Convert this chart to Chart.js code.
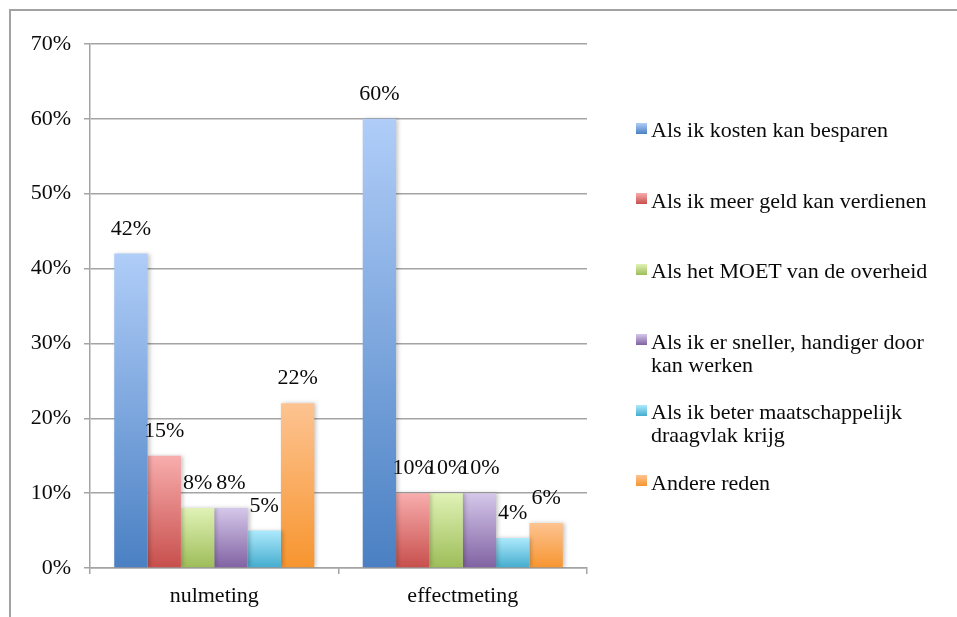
<!DOCTYPE html>
<html>
<head>
<meta charset="utf-8">
<script src="https://cdn.jsdelivr.net/npm/chart.js@4"></script>
<style>
  html, body { margin:0; padding:0; background:#fff; overflow:hidden; }
  #wrap { position:relative; width:957px; height:617px; }
  #frame { position:absolute; left:9px; top:9px; width:960px; height:620px; border-top:2px solid #a2a2a2; border-left:2px solid #a2a2a2; box-sizing:border-box; }
  canvas { position:absolute; left:0; top:0; }
  #legend { position:absolute; left:651px; top:118px; width:295px; font-family:"Liberation Serif", serif; font-size:22px; line-height:23.4px; color:#0a0a0a; }
  .item { position:relative; height:70.5px; }
  .sw { position:absolute; left:-15px; top:4.5px; width:11px; height:11px; }
</style>
</head>
<body>
<div id="wrap">
  <div id="frame"></div>
  <canvas id="c" width="957" height="617"></canvas>
  <div id="legend"></div>
</div>
<script>
const categories = ['nulmeting', 'effectmeting'];
const seriesNames = [
  'Als ik kosten kan besparen',
  'Als ik meer geld kan verdienen',
  'Als het MOET van de overheid',
  'Als ik er sneller, handiger door kan werken',
  'Als ik beter maatschappelijk draagvlak krijg',
  'Andere reden'
];
const kostenBesparen = [42, 60];
const meerGeld = [15, 10];
const moetOverheid = [8, 10];
const snellerHandiger = [8, 10];
const draagvlak = [5, 4];
const andereReden = [22, 6];
const yTickValues = [0, 10, 20, 30, 40, 50, 60, 70];

const seriesValues = [kostenBesparen, meerGeld, moetOverheid, snellerHandiger, draagvlak, andereReden];
const gradTop = ['#b0cdf8', '#f8adad', '#e0f2b6', '#d5c7ea', '#ade9fc', '#fdc391'];
const gradBottom = ['#4a80c3', '#c74f4c', '#9dbd58', '#8062a2', '#44acce', '#f7952f'];

const FONT = '"Liberation Serif", serif';

function gradFor(i) {
  return function(ctx) {
    const chart = ctx.chart;
    const bottom = gradBottom[i];
    if (!chart.chartArea || ctx.type !== 'data' || !chart.scales.y) return bottom;
    const y0 = chart.scales.y.getPixelForValue(0);
    const y1 = chart.scales.y.getPixelForValue(ctx.raw);
    if (!isFinite(y0) || !isFinite(y1) || y0 === y1) return bottom;
    const g = chart.ctx.createLinearGradient(0, y1, 0, y0);
    g.addColorStop(0, gradTop[i]);
    g.addColorStop(1, bottom);
    return g;
  };
}

const datasets = seriesNames.map((name, i) => ({
  label: name,
  data: seriesValues[i],
  backgroundColor: gradFor(i),
  borderWidth: 0,
  barPercentage: 1.0,
  categoryPercentage: 0.805
}));

const shadowPlugin = {
  id: 'barShadow',
  beforeDatasetsDraw(chart) {
    const c = chart.ctx;
    c.save();
    c.shadowColor = 'rgba(0,0,0,0.22)';
    c.shadowBlur = 4;
    c.shadowOffsetX = 2;
    c.shadowOffsetY = 0;
  },
  afterDatasetsDraw(chart) {
    chart.ctx.restore();
  }
};

const labelPlugin = {
  id: 'valueLabels',
  afterDatasetsDraw(chart) {
    const c = chart.ctx;
    c.save();
    c.font = '22px ' + FONT;
    c.fillStyle = '#0a0a0a';
    c.textAlign = 'center';
    c.textBaseline = 'alphabetic';
    chart.data.datasets.forEach((ds, di) => {
      const meta = chart.getDatasetMeta(di);
      meta.data.forEach((bar, j) => {
        c.fillText(ds.data[j] + '%', bar.x, bar.y - 19);
      });
    });
    c.restore();
  }
};

const gridColor = '#a4a4a4';

new Chart(document.getElementById('c'), {
  type: 'bar',
  data: { labels: categories, datasets },
  plugins: [shadowPlugin, labelPlugin],
  options: {
    responsive: false,
    animation: false,
    devicePixelRatio: 1,
    layout: { padding: { left: 0, top: 44, right: 370, bottom: 0 } },
    plugins: { legend: { display: false }, tooltip: { enabled: false } },
    scales: {
      x: {
        afterFit(scale) { scale.height = 49; },
        grid: { drawOnChartArea: false, drawTicks: true, tickLength: 6, color: gridColor, lineWidth: 1.5, offset: true },
        border: { color: gridColor, width: 1.5 },
        ticks: { font: { family: FONT, size: 22 }, color: '#0a0a0a', padding: 9, maxRotation: 0 }
      },
      y: {
        min: 0, max: 70,
        afterFit(scale) { scale.width = 90; },
        afterBuildTicks(scale) { scale.ticks = yTickValues.map(v => ({ value: v })); },
        grid: { color: gridColor, lineWidth: 1.5, tickLength: 6, drawTicks: true },
        border: { color: gridColor, width: 1.5 },
        ticks: { font: { family: FONT, size: 22 }, color: '#0a0a0a', padding: 13, callback: v => v + '%' }
      }
    }
  }
});

const legend = document.getElementById('legend');
seriesNames.forEach((name, i) => {
  const item = document.createElement('div');
  item.className = 'item';
  const sw = document.createElement('span');
  sw.className = 'sw';
  sw.style.background = 'linear-gradient(' + gradTop[i] + ',' + gradBottom[i] + ')';
  item.appendChild(sw);
  item.appendChild(document.createTextNode(name));
  legend.appendChild(item);
});
</script>
</body>
</html>
